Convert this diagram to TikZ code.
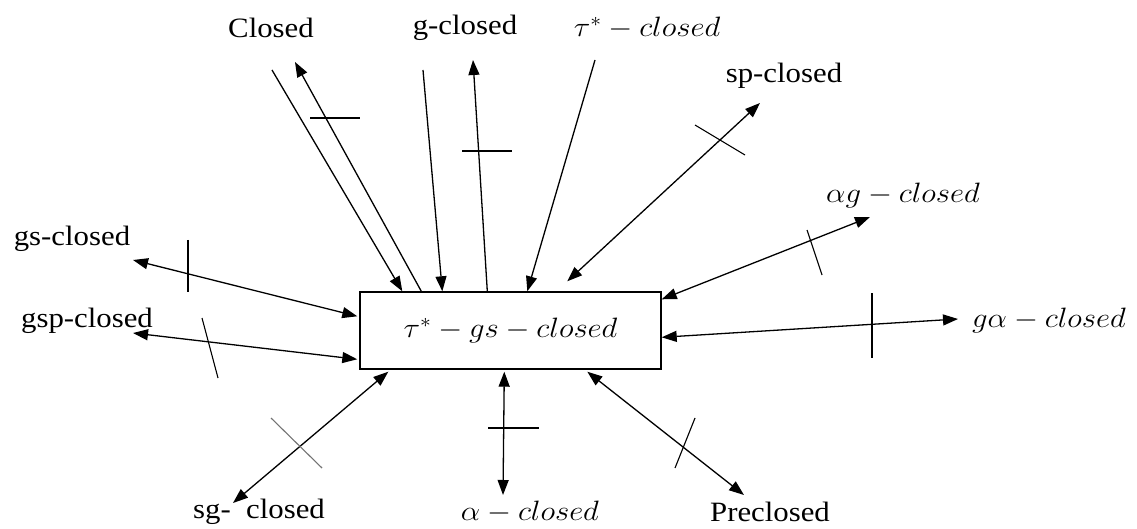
\documentclass[tikz,border=0pt]{standalone}
\usepackage{fix-cm}
\usepackage{graphicx}
\usepackage{fontspec}
\setmainfont{Liberation Serif}[FakeStretch=1.1]
\usetikzlibrary{arrows.meta}
\newcommand{\mt}[1]{\scalebox{1.1}[1]{$#1$}}
\begin{document}
\begin{tikzpicture}[x=1pt,y=-1pt,
  lbl/.style={inner sep=0pt, font=\fontsize{28}{32}\selectfont},
  con/.style={line width=1.3pt},
  tipend/.style={con,-{Triangle[length=15pt,width=11pt]}},
  bothend/.style={con,{Triangle[length=15pt,width=11pt]}-{Triangle[length=15pt,width=11pt]}},
  tickmark/.style={line width=1.1pt},
]
\useasboundingbox (0,0) rectangle (1137,529);

% central box
\node[draw, line width=1.4pt, minimum width=301pt, minimum height=77pt, inner sep=0pt,
      font=\fontsize{28}{32}\selectfont] (box) at (510.5,330.5)
      {\raisebox{5pt}{\mt{\tau^{*}-gs-closed}}};

% labels
\node[lbl] (closed) at (271,28) {Closed};
\node[lbl] (gclosed) at (465,28) {g-closed};
\node[lbl] (tclosed) at (647,28) {\mt{\tau^{*}-closed}};
\node[lbl] (spclosed) at (784,76) {sp-closed};
\node[lbl] (agclosed) at (903,196) {\mt{\alpha g-closed}};
\node[lbl] (gaclosed) at (1049,320) {\mt{g\alpha-closed}};
\node[lbl] (gsclosed) at (72,239) {gs-closed};
\node[lbl] (gspclosed) at (87,321) {gsp-closed};
\node[lbl] (sgclosed) at (259,512) {sg-\ \ closed};
\node[lbl] (aclosed) at (530,512) {\mt{\alpha-closed}};
\node[lbl] (preclosed) at (770,512) {Preclosed};

% free ends
\coordinate (c1) at (272,70);
\coordinate (c2) at (295,62);
\coordinate (g1) at (423,70);
\coordinate (g2) at (473,60);
\coordinate (t1) at (595,60);
\coordinate (sp1) at (760,103);
\coordinate (ag1) at (870,217);
\coordinate (ga1) at (958,319);
\coordinate (gs1) at (133,260);
\coordinate (gsp1) at (133,333);
\coordinate (sg1) at (233,503);
\coordinate (al1) at (503,495);
\coordinate (pr1) at (744,495);

% box ends
\coordinate (bc1) at ([xshift=43pt]box.north west);
\coordinate (bc2) at ([xshift=62pt]box.north west);
\coordinate (bg1) at ([xshift=83pt]box.north west);
\coordinate (bg2) at ([xshift=128pt]box.north west);
\coordinate (bt1) at ([xshift=168pt]box.north west);
\coordinate (bsp) at ([xshift=208pt,yshift=10pt]box.north west);
\coordinate (bag) at ([yshift=-8pt]box.north east);
\coordinate (bga) at ([yshift=-46pt]box.north east);
\coordinate (bgs) at ([xshift=-2pt,yshift=-25pt]box.north west);
\coordinate (bgsp) at ([xshift=-2pt,yshift=-68pt]box.north west);
\coordinate (bsg) at ([xshift=29pt,yshift=-2pt]box.south west);
\coordinate (bal) at ([xshift=145pt,yshift=-2pt]box.south west);
\coordinate (bpr) at ([xshift=228pt,yshift=-2pt]box.south west);

% connectors
\draw[tipend] (c1) -- (bc1);
\draw[tipend] (bc2) -- (c2);
\draw[tipend] (g1) -- (bg1);
\draw[tipend] (bg2) -- (g2);
\draw[tipend] (t1) -- (bt1);
\draw[bothend] (bsp) -- (sp1);
\draw[bothend] (bag) -- (ag1);
\draw[bothend] (bga) -- (ga1);
\draw[bothend] (gs1) -- (bgs);
\draw[bothend] (gsp1) -- (bgsp);
\draw[bothend] (bsg) -- (sg1);
\draw[bothend] (bal) -- (al1);
\draw[bothend] (bpr) -- (pr1);

% negation ticks
\draw[tickmark] (310,118) -- (360,118);
\draw[tickmark] (462,151) -- (512,151);
\draw[tickmark] (695,125) -- (745,155);
\draw[tickmark] (807,230) -- (822,275);
\draw[tickmark] (872,293) -- (872,358);
\draw[tickmark] (188,240) -- (188,292);
\draw[tickmark] (202,318) -- (218,378);
\draw[tickmark, black!55] (271,418) -- (322,468);
\draw[tickmark] (488,428) -- (539,428);
\draw[tickmark] (695,418) -- (675,468);
\end{tikzpicture}
\end{document}
